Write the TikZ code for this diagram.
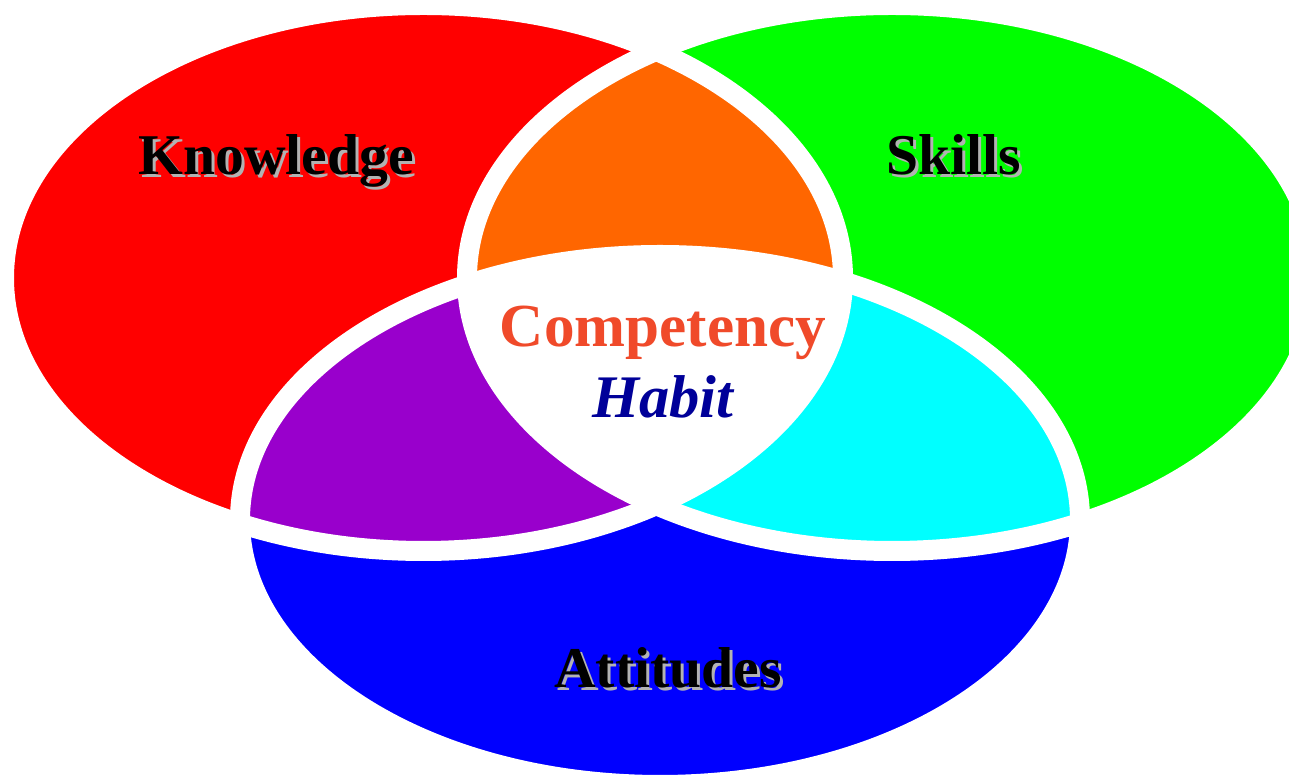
\documentclass[tikz,border=0pt]{standalone}
\usepackage{fontspec}
\setmainfont{Liberation Serif}
\usepackage{tikz}

\definecolor{knowred}{RGB}{255,0,0}
\definecolor{skillgreen}{RGB}{0,255,0}
\definecolor{attblue}{RGB}{0,0,255}
\definecolor{ksorange}{RGB}{255,102,0}
\definecolor{kapurple}{RGB}{153,0,204}
\definecolor{sacyan}{RGB}{0,255,255}
\definecolor{compred}{RGB}{240,74,42}
\definecolor{habitblue}{RGB}{0,0,153}

\newcommand{\knowpath}{(423.5,501) ellipse [x radius=419.5, y radius=273]}
\newcommand{\skillpath}{(892,501) ellipse [x radius=425, y radius=273]}
\newcommand{\attpath}{(660,259) ellipse [x radius=420, y radius=265]}

\begin{document}
\begin{tikzpicture}[x=0.1mm, y=0.1mm,
	ring/.style={draw=white, line width=2mm},
	word/.style={font=\fontsize{16.4}{20}\selectfont\bfseries, anchor=base, inner sep=0pt},
	drop/.style={word, text=black!30}]
	\useasboundingbox (0,0) rectangle (1289,779);
	\clip (0,0) rectangle (1289,779);

	\fill[knowred] \knowpath;
	\fill[skillgreen] \skillpath;
	\fill[attblue] \attpath;

	\begin{scope}
		\clip \knowpath;
		\fill[ksorange] \skillpath;
		\fill[kapurple] \attpath;
	\end{scope}
	\begin{scope}
		\clip \skillpath;
		\fill[sacyan] \attpath;
		\clip \knowpath;
		\fill[white] \attpath;
	\end{scope}

	\path[ring] \knowpath;
	\path[ring] \skillpath;
	\path[ring] \attpath;

	\node[drop] (know-s) at (279,601) {Knowledge};
	\node[word] (know) at (276,604) {Knowledge};
	\node[drop] (skill-s) at (957,601) {Skills};
	\node[word] (skill) at (954,604) {Skills};
	\node[drop] (att-s) at (671,88) {Attitudes};
	\node[word] (att) at (668,91) {Attitudes};

	\node[word, font=\fontsize{17.4}{21}\selectfont\bfseries, text=compred] (comp) at (663,432) {Competency};
	\node[word, font=\fontsize{17.2}{21}\selectfont\bfseries\itshape, text=habitblue] (habit) at (663,361) {Habit};
\end{tikzpicture}
\end{document}
